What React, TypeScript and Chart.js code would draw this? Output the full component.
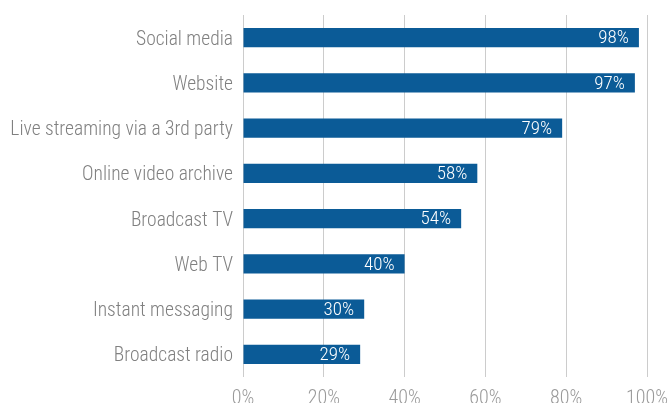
import React, { useEffect, useRef } from "react";
import { Chart, registerables } from "chart.js";
Chart.register(...registerables);

const categories = [
  "Social media",
  "Website",
  "Live streaming via a 3rd party",
  "Online video archive",
  "Broadcast TV",
  "Web TV",
  "Instant messaging",
  "Broadcast radio",
];
const values = [98, 97, 79, 58, 54, 40, 30, 29];
const xTickValues = [0, 20, 40, 60, 80, 100];

const FONT =
  "'Roboto Condensed', 'Liberation Sans Narrow', 'DejaVu Sans Condensed', 'Arial Narrow', sans-serif";
const W = 671;
const H = 420;

export default function App() {
  const ref = useRef<HTMLCanvasElement>(null);
  useEffect(() => {
    document.body.style.margin = "0";
    const labelPlugin = {
      id: "barLabels",
      afterDatasetsDraw(chart: any) {
        const ctx = chart.ctx;
        const meta = chart.getDatasetMeta(0);
        ctx.save();
        ctx.font = `300 19px ${FONT}`;
        ctx.fillStyle = "#ffffff";
        ctx.textAlign = "right";
        ctx.textBaseline = "middle";
        meta.data.forEach((el: any, i: number) => {
          ctx.fillText(values[i] + "%", el.x - 10, el.y + 1);
        });
        ctx.restore();
      },
    };
    const chart = new Chart(ref.current as HTMLCanvasElement, {
      type: "bar",
      data: {
        labels: categories,
        datasets: [
          {
            data: values,
            backgroundColor: "#0b5b97",
            barPercentage: 0.42,
            categoryPercentage: 1,
          },
        ],
      },
      options: {
        indexAxis: "y",
        animation: false,
        responsive: false,
        devicePixelRatio: 1,
        layout: { padding: { top: 15, right: 24, left: 0, bottom: 0 } },
        plugins: { legend: { display: false }, tooltip: { enabled: false } },
        scales: {
          x: {
            min: 0,
            max: 100,
            afterBuildTicks: (scale: any) => {
              scale.ticks = xTickValues.map((v) => ({ value: v }));
            },
            ticks: {
              callback: (v: any) => v + "%",
              color: "#9a9a9a",
              font: { family: FONT, size: 20, weight: "300" },
              padding: 10,
            },
            grid: { color: "#cccccc", drawTicks: false, lineWidth: 1 },
            border: { display: false },
            afterFit: (scale: any) => {
              scale.height = H - 377;
              scale.paddingLeft = 0;
              scale.paddingRight = 0;
            },
          },
          y: {
            ticks: {
              color: "#808080",
              font: { family: FONT, size: 19.5, weight: "300" },
              padding: 10,
              labelOffset: 2,
            },
            grid: { display: false, drawTicks: false },
            border: { display: false },
            afterFit: (scale: any) => {
              scale.width = 243;
              scale.paddingTop = 0;
              scale.paddingBottom = 0;
            },
          },
        },
      },
      plugins: [labelPlugin],
    });
    return () => chart.destroy();
  }, []);
  return (
    <div style={{ width: W, height: 403, overflow: "hidden" }}>
      <canvas ref={ref} width={W} height={H} style={{ display: "block" }} />
    </div>
  );
}
